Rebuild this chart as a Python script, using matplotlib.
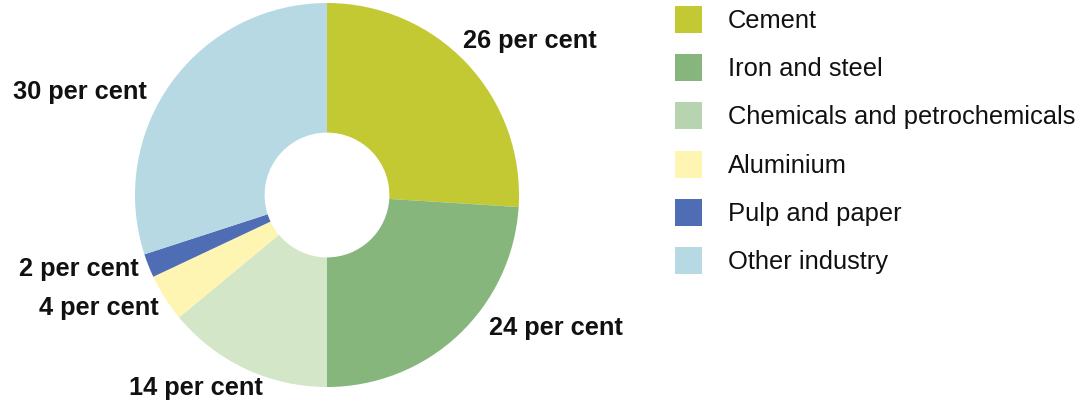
import matplotlib
matplotlib.use("Agg")
import matplotlib.pyplot as plt
from matplotlib.patches import Rectangle

categories = ["Cement", "Iron and steel", "Chemicals and petrochemicals",
              "Aluminium", "Pulp and paper", "Other industry"]
shares = [26, 24, 14, 4, 2, 30]
label_texts = ["26 per cent", "24 per cent", "14 per cent",
               "4 per cent", "2 per cent", "30 per cent"]

wedge_colors = ["#c2c932", "#86b67c", "#d3e6c8", "#fff5b3", "#4f6db5", "#b6d9e4"]
legend_colors = ["#c2c932", "#86b67c", "#b8d3b0", "#fff5b3", "#4f6db5", "#b6d9e4"]
# label centre positions in pixels (x from left, y from top)
label_pos = [(530, 41), (556, 328), (196, 388), (99, 308), (79, 269), (80, 92)]

W, H = 1075, 403
fig = plt.figure(figsize=(W / 100, H / 100), dpi=100)

cx, cy, R = 327, 195, 192
ax = fig.add_axes([(cx - R) / W, (H - cy - R) / H, 2 * R / W, 2 * R / H])
ax.pie(shares, colors=wedge_colors, startangle=90, counterclock=False,
       radius=1.0, wedgeprops=dict(width=0.675, linewidth=0))
ax.set_xlim(-1, 1)
ax.set_ylim(-1, 1)
ax.set_aspect("equal")
ax.axis("off")

for txt, (px, py) in zip(label_texts, label_pos):
    fig.text(px / W, 1 - py / H, txt, ha="center", va="center",
             fontsize=18.3, fontweight="bold", family="Liberation Sans", color="#111111")

# legend
sw_x, sw_w, sw_h = 675, 27, 27
y0, dy = 19.5, 48.2
for i, (name, col) in enumerate(zip(categories, legend_colors)):
    yc = y0 + i * dy
    fig.patches.append(Rectangle((sw_x / W, 1 - (yc + sw_h / 2) / H), sw_w / W, sw_h / H,
                                 transform=fig.transFigure, facecolor=col, edgecolor="none"))
    fig.text(728 / W, 1 - (yc + 1.5) / H, name, ha="left", va="center",
             fontsize=18.4, family="Liberation Sans", color="#111111")

fig.savefig("out.png", dpi=100)
